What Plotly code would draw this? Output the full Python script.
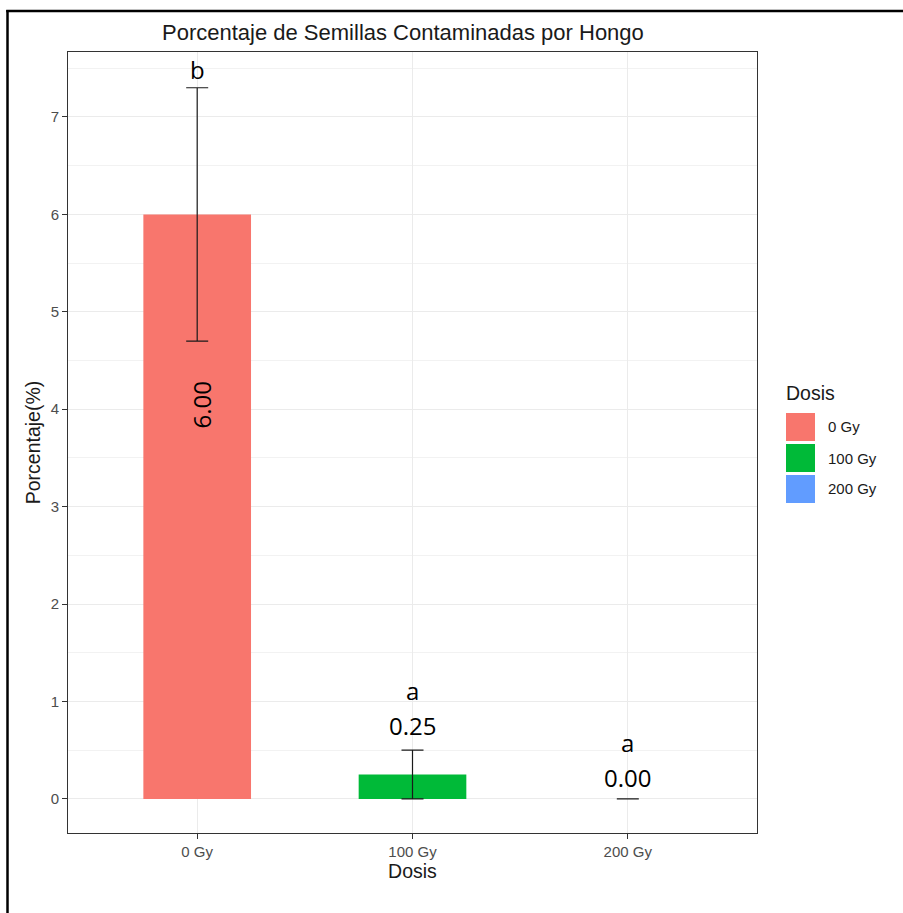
import plotly.graph_objects as go

# ---- data ----
categories = ["0 Gy", "100 Gy", "200 Gy"]
means = [6.00, 0.25, 0.00]
sds = [1.30, 0.25, 0.00]
letters = ["b", "a", "a"]
colors = ["#F8766D", "#00BA38", "#619CFF"]
y_ticks = [0, 1, 2, 3, 4, 5, 6, 7]

W, H = 903, 913
L, R, T, B = 68, 757, 52, 833  # panel pixel box
FONT = "Liberation Sans, Arial, sans-serif"


def px(xp):
    return (xp - L) / (R - L)


def py(yp):
    return (B - yp) / (B - T)


fig = go.Figure()
fig.add_trace(go.Bar(
    x=categories, y=means, width=0.5,
    marker=dict(color=colors, line=dict(width=0)),
    error_y=dict(type="data", array=sds, visible=True, color="#1a1a1a",
                 thickness=1.2, width=11),
    showlegend=False, hoverinfo="x+y",
))

annotations = []
label_font = dict(family="Open Sans, Lato, sans-serif", size=24, color="black")
for c, m, s, l in zip(categories, means, sds, letters):
    top = m + s
    if m > 3:
        annotations.append(dict(x=c, y=m, text=f"{m:.2f}", showarrow=False,
                                textangle=-90, font=label_font, xshift=4,
                                yshift=-191, xanchor="center", yanchor="middle"))
        annotations.append(dict(x=c, y=top, text=l, showarrow=False,
                                font=label_font, yshift=18,
                                xanchor="center", yanchor="middle"))
    else:
        ly = m + 1.15 * s
        annotations.append(dict(x=c, y=ly, text=f"{m:.2f}", showarrow=False,
                                font=label_font, yshift=21,
                                xanchor="center", yanchor="middle"))
        annotations.append(dict(x=c, y=ly, text=l, showarrow=False,
                                font=label_font, yshift=56,
                                xanchor="center", yanchor="middle"))

# title
annotations.append(dict(xref="paper", yref="paper", x=px(403), y=py(32),
                        text="Porcentaje de Semillas Contaminadas por Hongo",
                        showarrow=False, xanchor="center", yanchor="middle",
                        font=dict(family=FONT, size=22, color="#1a1a1a")))

# manual legend
shapes = []
annotations.append(dict(xref="paper", yref="paper", x=px(784), y=py(393),
                        text="Dosis", showarrow=False, xanchor="left", yanchor="middle",
                        font=dict(family=FONT, size=19.5, color="#1a1a1a")))
for i, (c, col) in enumerate(zip(categories, colors)):
    y0 = 413 + 31 * i
    shapes.append(dict(type="rect", xref="paper", yref="paper",
                       x0=px(786), x1=px(815), y0=py(y0), y1=py(y0 + 28),
                       fillcolor=col, line=dict(width=0)))
    annotations.append(dict(xref="paper", yref="paper", x=px(826), y=py(y0 + 14),
                            text=c, showarrow=False, xanchor="left", yanchor="middle",
                            font=dict(family=FONT, size=15, color="#1a1a1a")))

# outer frame (left and top edges visible in the picture)
shapes.append(dict(type="line", xref="paper", yref="paper",
                   x0=px(7.5), x1=px(7.5), y0=py(10), y1=py(930),
                   line=dict(color="black", width=2.5), layer="above"))
shapes.append(dict(type="line", xref="paper", yref="paper",
                   x0=px(6.25), x1=px(930), y0=py(11), y1=py(11),
                   line=dict(color="black", width=2.5), layer="above"))

axis_common = dict(showline=True, mirror=True, linecolor="#333333", linewidth=1,
                   ticks="outside", ticklen=5, tickcolor="#333333",
                   tickfont=dict(family=FONT, size=15, color="#4D4D4D"),
                   gridcolor="#EBEBEB", gridwidth=1, zeroline=False)

fig.update_layout(
    width=W, height=H,
    margin=dict(l=L, r=W - R, t=T, b=H - B),
    paper_bgcolor="white", plot_bgcolor="white",
    bargap=0.5,
    xaxis=dict(axis_common, range=[-0.6, 2.6], showgrid=True,
               title=dict(text="Dosis", standoff=1,
                          font=dict(family=FONT, size=19.5, color="#1a1a1a"))),
    yaxis=dict(axis_common, range=[-0.35, 7.667], tickvals=y_ticks, showgrid=True,
               minor=dict(dtick=0.5, tick0=0, showgrid=True, gridcolor="#F2F2F2", gridwidth=1),
               title=dict(text="Porcentaje(%)", standoff=4,
                          font=dict(family=FONT, size=19.5, color="#1a1a1a"))),
    annotations=annotations,
    shapes=shapes,
)

fig.write_html("out.html", config={"displayModeBar": False},
               post_script="document.body.style.margin='0';")
